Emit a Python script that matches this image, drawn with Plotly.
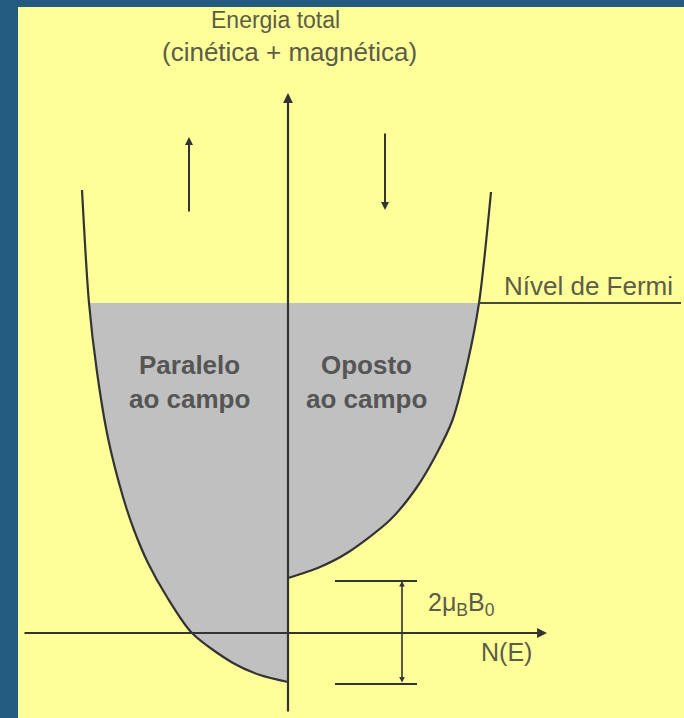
import plotly.graph_objects as go

# Band for spins parallel to the field (drawn on the negative N side)
E_par = [-0.49, -0.42, -0.30, 0.00, 0.36, 0.70, 1.03, 1.36, 1.95, 2.61, 3.30, 4.43]
N_par = [0.00, 0.28, 0.55, 0.96, 1.21, 1.40, 1.54, 1.65, 1.80, 1.91, 1.99, 2.06]

# Band for spins opposite to the field (positive N side)
E_opo = [0.55, 0.66, 0.80, 1.13, 1.46, 1.80, 2.13, 2.70, 3.30, 4.41]
N_opo = [0.00, 0.32, 0.59, 1.02, 1.29, 1.49, 1.645, 1.795, 1.91, 2.03]

E_fermi = 3.30
fermi_end = 3.93

# Splitting bracket (2 mu_B B0)
split_N = 1.14
split_E = [-0.51, 0.52]
split_tick = [0.47, 1.29]

# Axis extents
x_axis = [-2.65, 2.59]
y_axis = [-0.80, 5.40]

# Spin direction arrows: (N, E tail, E tip)
spin_up = (-0.99, 4.20, 4.96)
spin_down = (0.97, 5.01, 4.23)

LINE = "#333333"
FILL = "#c0c0c0"
TEXT = "#5c5c48"
LABEL = "#555555"
FONT = "Liberation Sans, Arial, sans-serif"
SMOOTH = 0.8

fig = go.Figure()

# Filled (occupied) regions below the Fermi level
par_fill = [(e, -n) for e, n in zip(E_par, N_par) if e <= E_fermi]
opo_fill = [(e, n) for e, n in zip(E_opo, N_opo) if e <= E_fermi]
for pts in (par_fill, opo_fill):
    fig.add_trace(go.Scatter(
        x=[p[1] for p in pts], y=[p[0] for p in pts],
        mode="lines", line=dict(width=0, shape="spline", smoothing=SMOOTH, color=FILL),
        fill="tozerox", fillcolor=FILL, hoverinfo="skip", showlegend=False))

# Band curves
fig.add_trace(go.Scatter(x=[-n for n in N_par], y=E_par, mode="lines",
                         line=dict(color=LINE, width=2.2, shape="spline", smoothing=SMOOTH),
                         hoverinfo="skip", showlegend=False))
fig.add_trace(go.Scatter(x=N_opo, y=E_opo, mode="lines",
                         line=dict(color=LINE, width=2.2, shape="spline", smoothing=SMOOTH),
                         hoverinfo="skip", showlegend=False))

# Fermi level line (to the right of the opposite band)
fig.add_trace(go.Scatter(x=[N_opo[E_opo.index(E_fermi)], fermi_end], y=[E_fermi, E_fermi],
                         mode="lines", line=dict(color="#4a4a38", width=2.2),
                         hoverinfo="skip", showlegend=False))

# Splitting bracket ticks
for e in split_E:
    fig.add_trace(go.Scatter(x=split_tick, y=[e, e], mode="lines",
                             line=dict(color=LINE, width=2),
                             hoverinfo="skip", showlegend=False))

annotations = []


def arrow(x0, y0, x1, y1, side="end", head=2, size=1.0, width=2):
    annotations.append(dict(
        x=x1, y=y1, ax=x0, ay=y0, xref="x", yref="y", axref="x", ayref="y",
        text="", showarrow=True, arrowhead=head, arrowside=side,
        arrowsize=size, arrowwidth=width, arrowcolor=LINE, standoff=0, startstandoff=0))


# Axes with arrowheads
arrow(0, y_axis[0], 0, y_axis[1], size=0.9, width=2.2)
arrow(x_axis[0], 0, x_axis[1], 0, size=0.9, width=2.2)
# Spin arrows
arrow(spin_up[0], spin_up[1], spin_up[0], spin_up[2], size=0.8, width=2)
arrow(spin_down[0], spin_down[1], spin_down[0], spin_down[2], size=0.8, width=2)
# Bracket
arrow(split_N, split_E[0], split_N, split_E[1], side="end+start", size=0.7, width=1.6)


def text(x, y, s, size, color=TEXT, anchor="center", bold=False):
    annotations.append(dict(
        x=x, y=y, xref="x", yref="y", text=f"<b>{s}</b>" if bold else s,
        showarrow=False, xanchor=anchor, yanchor="middle",
        font=dict(family=FONT, size=size, color=color)))


text(-0.13, 6.13, "Energia total", 23)
text(0.01, 5.81, "(cinética + magnética)", 26)
text(2.14, 3.47, "Nível de Fermi", 26, anchor="left")
text(1.91, -0.19, "N(E)", 25, anchor="left")
text(1.38, 0.29, "2μ<sub>B</sub>B<sub>0</sub>", 25, anchor="left")
text(-0.99, 2.68, "Paralelo", 26, color=LABEL, bold=True)
text(-0.985, 2.34, "ao campo", 26, color=LABEL, bold=True)
text(0.785, 2.68, "Oposto", 26, color=LABEL, bold=True)
text(0.785, 2.34, "ao campo", 26, color=LABEL, bold=True)

fig.update_layout(
    width=684, height=718,
    margin=dict(l=18, r=0, t=7, b=0),
    paper_bgcolor="#235a80",
    plot_bgcolor="#ffff99",
    xaxis=dict(range=[-2.70, 3.96], visible=False, fixedrange=True),
    yaxis=dict(range=[-0.85, 6.26], visible=False, fixedrange=True),
    annotations=annotations,
    showlegend=False,
)

fig.write_html("out.html")
